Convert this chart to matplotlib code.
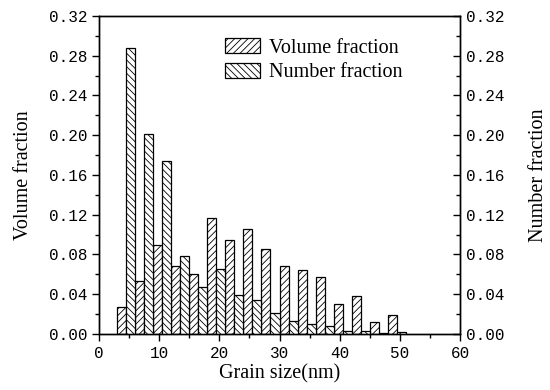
"""Grain size distribution: volume fraction vs number fraction, twin y axes."""
import numpy as np
import matplotlib
matplotlib.use("Agg")
import matplotlib.pyplot as plt
from matplotlib.ticker import MultipleLocator, FormatStrFormatter

plt.rcParams.update({"font.family": "Liberation Serif", "hatch.linewidth": 0.6,
                     "axes.linewidth": 1.0})

# bins every 3 nm, left edge of each pair starts at 3 nm
bin_left = [3, 6, 9, 12, 15, 18, 21, 24, 27, 30, 33, 36, 39, 42, 45, 48]
volume_fraction = [0.0275, 0.053, 0.090, 0.068, 0.060, 0.117, 0.095, 0.106,
                   0.086, 0.068, 0.064, 0.057, 0.030, 0.038, 0.012, 0.019]
number_fraction = [0.2875, 0.201, 0.174, 0.0785, 0.047, 0.065, 0.039, 0.034,
                   0.021, 0.0135, 0.0105, 0.0085, 0.0035, 0.0035, 0.001, 0.002]

TICKFONT = dict(family="Liberation Mono", size=11.5)
LABELFONT = dict(family="Liberation Serif", size=14.5)

fig = plt.figure(figsize=(5.5, 3.9), dpi=100)
ax = fig.add_axes([0.18, 0.1436, 0.6564, 0.8154])
ax2 = ax.twinx()

left = np.array(bin_left, dtype=float)
w = 1.5
ax.bar(left, volume_fraction, width=w, align="edge", color="white",
       edgecolor="black", linewidth=0.9, hatch="/////", label="Volume fraction")
ax2.bar(left + w, number_fraction, width=w, align="edge", color="white",
        edgecolor="black", linewidth=0.9, hatch="\\\\\\\\\\", label="Number fraction")

for a in (ax, ax2):
    a.set_ylim(0, 0.32)
    a.yaxis.set_major_locator(MultipleLocator(0.04))
    a.yaxis.set_minor_locator(MultipleLocator(0.02))
    a.yaxis.set_major_formatter(FormatStrFormatter("%.2f"))
ax.set_xlim(0, 60)
ax.xaxis.set_major_locator(MultipleLocator(10))
ax.xaxis.set_minor_locator(MultipleLocator(5))

ax.tick_params(axis="x", which="major", direction="out", length=5, width=1, pad=4)
ax.tick_params(axis="x", which="minor", direction="out", length=3, width=1)
ax.tick_params(axis="y", which="major", direction="out", length=5, width=1, pad=3)
ax.tick_params(axis="y", which="minor", direction="out", length=3, width=1)
ax2.tick_params(axis="y", which="major", direction="in", length=5, width=1, pad=4)
ax2.tick_params(axis="y", which="minor", direction="in", length=3, width=1)

for lab in ax.get_xticklabels() + ax.get_yticklabels() + ax2.get_yticklabels():
    lab.set_fontfamily(TICKFONT["family"])
    lab.set_fontsize(TICKFONT["size"])

ax.set_xlabel("Grain size(nm)", labelpad=2, **LABELFONT)
ax.set_ylabel("Volume fraction", labelpad=12, **LABELFONT)
ax2.set_ylabel("Number fraction", labelpad=18, **LABELFONT)

h1, l1 = ax.get_legend_handles_labels()
h2, l2 = ax2.get_legend_handles_labels()
ax2.legend(h1 + h2, l1 + l2, loc="upper left", bbox_to_anchor=(0.326, 0.955),
           frameon=False, prop=dict(family="Liberation Serif", size=14.5),
           handlelength=1.75, handleheight=0.75, handletextpad=0.45,
           labelspacing=0.25, borderaxespad=0)

fig.savefig("out.png", dpi=100)
